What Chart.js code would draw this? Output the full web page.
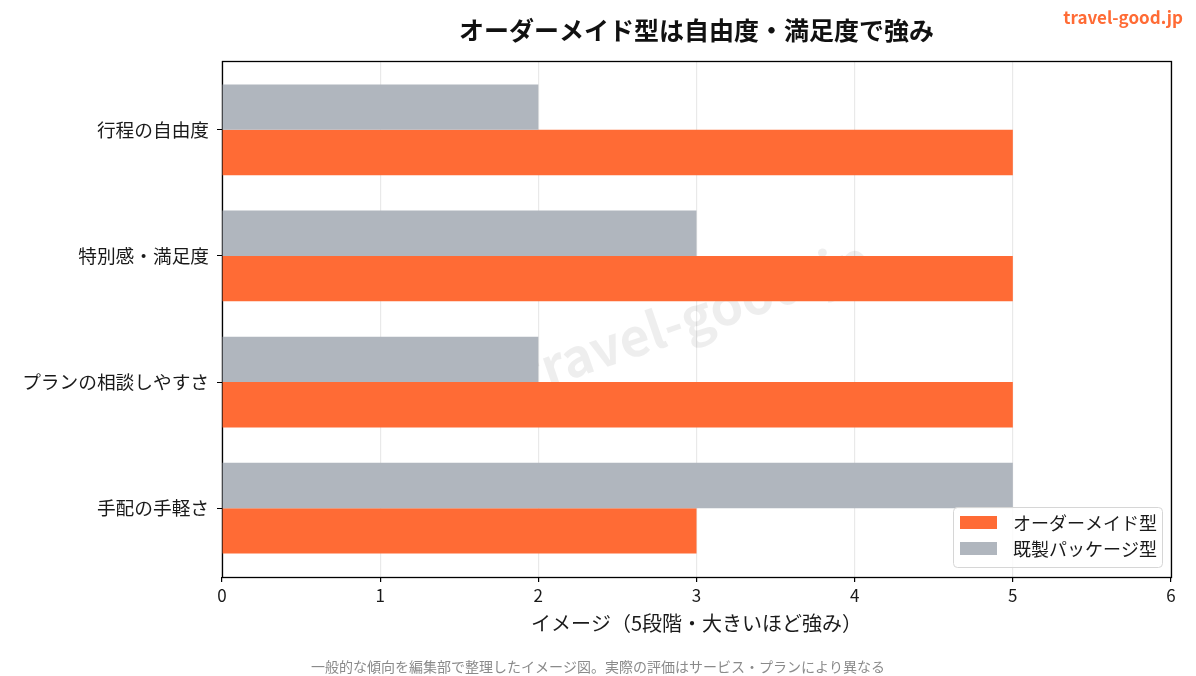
<!DOCTYPE html>
<html lang="ja">
<head>
<meta charset="utf-8">
<title>オーダーメイド型は自由度・満足度で強み</title>
<script src="https://cdn.jsdelivr.net/npm/chart.js@4.4.1/dist/chart.umd.min.js"></script>
<style>
  html, body { margin: 0; padding: 0; background: #fff; }
  #chart { display: block; }
</style>
</head>
<body>
<canvas id="chart" width="1196" height="676"></canvas>
<script>
const categories = ['行程の自由度', '特別感・満足度', 'プランの相談しやすさ', '手配の手軽さ'];
const packageValues = [2, 3, 2, 5];   // 既製パッケージ型
const orderValues = [5, 5, 5, 3];     // オーダーメイド型
const xTicks = [0, 1, 2, 3, 4, 5, 6];

const ORANGE = '#ff6b35';
const GRAY = '#b0b6be';
const FONT = "'Noto Sans CJK JP', 'Noto Sans', sans-serif";

Chart.defaults.font.family = FONT;
Chart.defaults.color = '#1a1a1a';

// タイトル・透かし・注記・凡例・枠線
const decorations = {
    id: 'decorations',
    beforeDatasetsDraw(chart) {
        const {ctx, chartArea: a} = chart;
        ctx.save();
        // 中央の斜め透かし
        ctx.translate((a.left + a.right) / 2 - 2, (a.top + a.bottom) / 2 - 3);
        ctx.rotate(-19 * Math.PI / 180);
        ctx.font = `bold 52px ${FONT}`;
        ctx.fillStyle = 'rgba(0,0,0,0.065)';
        ctx.textAlign = 'center';
        ctx.textBaseline = 'middle';
        ctx.fillText('travel-good.jp', 0, 0);
        ctx.restore();

        // 枠線（バーの下）
        ctx.save();
        ctx.strokeStyle = '#000';
        ctx.lineWidth = 1.3;
        ctx.strokeRect(a.left + 0.5, a.top + 0.5, a.right - a.left, a.bottom - a.top);
        ctx.restore();
    },
    afterDatasetsDraw(chart) {
        const {ctx, chartArea: a} = chart;
        ctx.save();
        // タイトル
        ctx.font = `bold 25px ${FONT}`;
        ctx.fillStyle = '#111';
        ctx.textAlign = 'center';
        ctx.textBaseline = 'middle';
        ctx.fillText('オーダーメイド型は自由度・満足度で強み', (a.left + a.right) / 2, 30);

        // 右上のサイト名
        ctx.font = `bold 17px ${FONT}`;
        ctx.fillStyle = ORANGE;
        ctx.textAlign = 'right';
        ctx.fillText('travel-good.jp', 1183, 18);

        // 注記
        ctx.font = `14px ${FONT}`;
        ctx.fillStyle = '#8a8a8a';
        ctx.textAlign = 'center';
        ctx.fillText('一般的な傾向を編集部で整理したイメージ図。実際の評価はサービス・プランにより異なる', 598, 667);

        // 凡例（右下、半透明）
        const bx = 953, by = 507, bw = 209, bh = 60;
        ctx.fillStyle = 'rgba(255,255,255,0.8)';
        ctx.strokeStyle = '#d6d6d6';
        ctx.lineWidth = 1;
        ctx.beginPath();
        ctx.roundRect(bx + 0.5, by + 0.5, bw, bh, 4);
        ctx.fill();
        ctx.stroke();
        const order = [1, 0];
        ctx.font = `18px ${FONT}`;
        ctx.textAlign = 'left';
        order.forEach((di, i) => {
            const ds = chart.data.datasets[di];
            const cy = 522 + i * 26;
            ctx.fillStyle = ds.backgroundColor;
            ctx.fillRect(960, cy - 6, 37, 13);
            ctx.fillStyle = '#1a1a1a';
            ctx.fillText(ds.label, 1013, cy + 1);
        });
        ctx.restore();
    }
};

new Chart(document.getElementById('chart'), {
    type: 'bar',
    data: {
        datasets: [
            {
                label: '既製パッケージ型',
                data: packageValues.map((v, i) => ({x: v, y: i})),
                backgroundColor: GRAY,
                categoryPercentage: 0.72,
                barPercentage: 1.0,
            },
            {
                label: 'オーダーメイド型',
                data: orderValues.map((v, i) => ({x: v, y: i})),
                backgroundColor: ORANGE,
                categoryPercentage: 0.72,
                barPercentage: 1.0,
            },
        ],
    },
    options: {
        indexAxis: 'y',
        responsive: false,
        animation: false,
        layout: {padding: {top: 61, right: 25, bottom: 39, left: 0}},
        plugins: {
            legend: {display: false},
            tooltip: {enabled: false},
        },
        scales: {
            x: {
                type: 'linear',
                min: 0,
                max: 6,
                afterBuildTicks: scale => { scale.ticks = xTicks.map(v => ({value: v})); },
                afterFit: scale => { scale.height = 60; },
                ticks: {font: {size: 17}, padding: 3, color: '#1a1a1a'},
                grid: {color: '#e9e9e9', lineWidth: 1.2, tickColor: '#000', tickLength: 5},
                border: {display: false},
                title: {
                    display: true,
                    text: 'イメージ（5段階・大きいほど強み）',
                    font: {size: 20},
                    color: '#1a1a1a',
                    padding: {top: 0, bottom: 2},
                },
            },
            y: {
                type: 'linear',
                reverse: true,
                offset: false,
                min: -0.546,
                max: 3.546,
                afterBuildTicks: scale => { scale.ticks = categories.map((c, i) => ({value: i})); },
                afterFit: scale => { scale.width = 222; },
                ticks: {
                    font: {size: 18.7},
                    padding: 8,
                    color: '#1a1a1a',
                    callback: v => categories[v],
                },
                grid: {offset: false, drawOnChartArea: false, tickColor: '#000', tickLength: 5},
                border: {display: false},
            },
        },
    },
    plugins: [decorations],
});
</script>
</body>
</html>
